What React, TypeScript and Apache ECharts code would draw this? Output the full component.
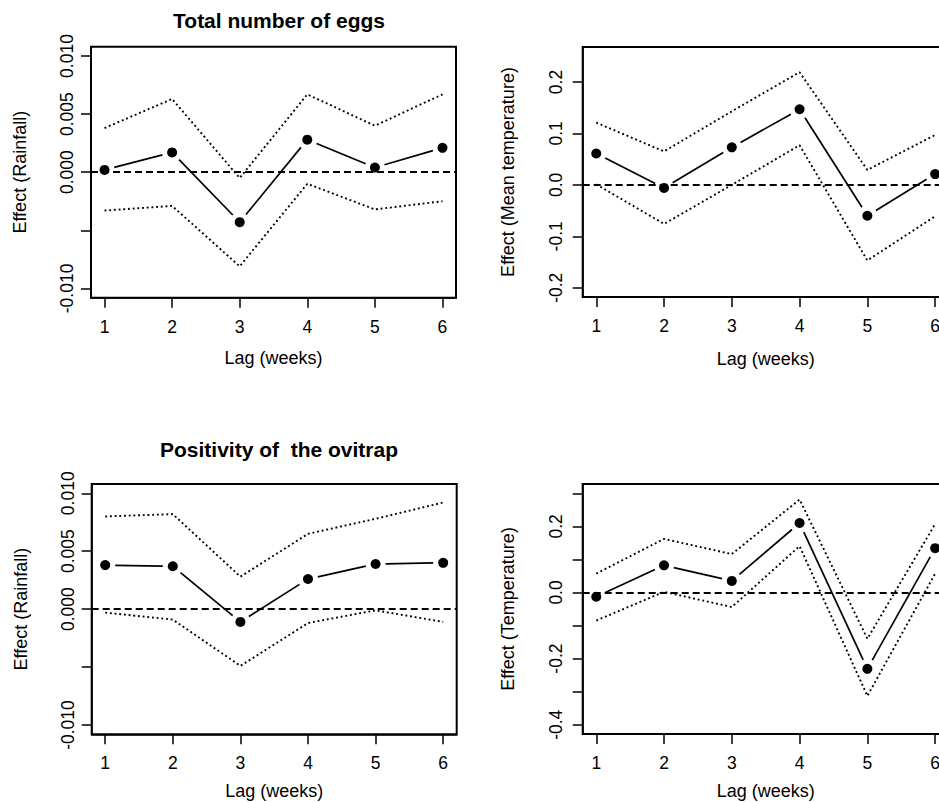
import React, { useEffect, useRef } from "react";
import * as echarts from "echarts";

// ---- Data ----
const lags = [1, 2, 3, 4, 5, 6];

// Total number of eggs – rainfall
const eggsRainEffect = [0.0002, 0.0017, -0.0043, 0.0028, 0.0004, 0.0021];
const eggsRainUpper = [0.0038, 0.0063, -0.0005, 0.0067, 0.004, 0.0067];
const eggsRainLower = [-0.0033, -0.0029, -0.0081, -0.001, -0.0032, -0.0025];

// Total number of eggs – mean temperature
const eggsTempEffect = [0.061, -0.006, 0.073, 0.147, -0.06, 0.021];
const eggsTempUpper = [0.121, 0.065, 0.143, 0.219, 0.029, 0.097];
const eggsTempLower = [0.001, -0.076, 0.0, 0.077, -0.147, -0.061];

// Positivity of the ovitrap – rainfall
const posRainEffect = [0.0038, 0.0037, -0.0011, 0.0026, 0.0039, 0.004];
const posRainUpper = [0.008, 0.0082, 0.0028, 0.0065, 0.0078, 0.0092];
const posRainLower = [-0.0003, -0.0009, -0.0049, -0.0012, -0.0001, -0.0011];

// Positivity of the ovitrap – temperature
const posTempEffect = [-0.013, 0.082, 0.035, 0.21, -0.231, 0.134];
const posTempUpper = [0.057, 0.162, 0.116, 0.281, -0.14, 0.207];
const posTempLower = [-0.085, 0.002, -0.044, 0.14, -0.313, 0.057];

// Tick values / labels
const xTicks = [1, 2, 3, 4, 5, 6];
const rainTicks = [-0.01, -0.005, 0, 0.005, 0.01];
const rainLabels = [-0.01, 0, 0.005, 0.01];
const meanTempTicks = [-0.2, -0.1, 0, 0.1, 0.2];
const tempTicks = [-0.4, -0.3, -0.2, -0.1, 0, 0.1, 0.2, 0.3];
const tempLabels = [-0.4, -0.2, 0, 0.2];

const titles = ["Total number of eggs", "Positivity of  the ovitrap"];
const yNames = [
  "Effect (Rainfall)",
  "Effect (Mean temperature)",
  "Effect (Rainfall)",
  "Effect (Temperature)",
];
const xName = "Lag (weeks)";

const FONT = "Liberation Sans, Arial, Helvetica, sans-serif";
const GAP = 10;

type Panel = {
  effect: number[];
  upper: number[];
  lower: number[];
  ticks: number[];
  labels: number[];
  min: number;
  max: number;
  dec: number;
  left: number;
  top: number;
  width: number;
  height: number;
  yGap: number;
  xGap: number;
  yMargin: number;
};

const panels: Panel[] = [
  {
    effect: eggsRainEffect, upper: eggsRainUpper, lower: eggsRainLower,
    ticks: rainTicks, labels: rainLabels, min: -0.0108, max: 0.0108, dec: 3,
    left: 91, top: 46.7, width: 365, height: 251, yGap: 62, xGap: 51, yMargin: 15,
  },
  {
    effect: eggsTempEffect, upper: eggsTempUpper, lower: eggsTempLower,
    ticks: meanTempTicks, labels: meanTempTicks, min: -0.218, max: 0.268, dec: 1,
    left: 582.7, top: 47, width: 366, height: 250, yGap: 66, xGap: 53, yMargin: 18,
  },
  {
    effect: posRainEffect, upper: posRainUpper, lower: posRainLower,
    ticks: rainTicks, labels: rainLabels, min: -0.0108, max: 0.0108, dec: 3,
    left: 91.7, top: 484, width: 365, height: 250.3, yGap: 62, xGap: 48, yMargin: 15,
  },
  {
    effect: posTempEffect, upper: posTempUpper, lower: posTempLower,
    ticks: tempTicks, labels: tempLabels, min: -0.428, max: 0.328, dec: 1,
    left: 582.7, top: 484, width: 366, height: 250, yGap: 66, xGap: 48, yMargin: 18,
  },
];

const labelStyle = {
  fontSize: 17.5,
  color: "#000",
  fontFamily: FONT,
};

function gapLineRenderItem(params: any, api: any) {
  const k = params.dataIndexInside;
  if (k >= lags.length - 1) return null;
  const a = api.coord([api.value(0, k), api.value(1, k)]);
  const b = api.coord([api.value(0, k + 1), api.value(1, k + 1)]);
  const dx = b[0] - a[0];
  const dy = b[1] - a[1];
  const len = Math.hypot(dx, dy);
  if (len <= 2 * GAP) return null;
  const ux = dx / len;
  const uy = dy / len;
  return {
    type: "line",
    shape: {
      x1: a[0] + ux * GAP,
      y1: a[1] + uy * GAP,
      x2: b[0] - ux * GAP,
      y2: b[1] - uy * GAP,
    },
    style: { stroke: "#000", lineWidth: 1.7, fill: null },
  };
}

function buildOption() {
  const grid: any[] = [];
  const xAxis: any[] = [];
  const yAxis: any[] = [];
  const series: any[] = [];

  panels.forEach((p, i) => {
    grid.push({
      left: p.left,
      top: p.top,
      width: p.width,
      height: p.height,
      show: true,
      borderColor: "#000",
      borderWidth: 2,
      backgroundColor: "transparent",
      containLabel: false,
    });
    xAxis.push({
      type: "value",
      gridIndex: i,
      min: 0.8,
      max: 6.2,
      name: xName,
      nameLocation: "middle",
      nameGap: p.xGap,
      nameTextStyle: { fontSize: 18, color: "#000", fontFamily: FONT },
      axisLine: { show: true, onZero: false, lineStyle: { color: "#000", width: 1.5 } },
      axisTick: {
        show: true,
        inside: false,
        length: 10,
        customValues: xTicks,
        lineStyle: { color: "#000", width: 1.5 },
      },
      axisLabel: {
        show: true,
        customValues: xTicks,
        margin: 20,
        ...labelStyle,
        formatter: (v: number) => String(v),
      },
      splitLine: { show: false },
    });
    yAxis.push({
      type: "value",
      gridIndex: i,
      min: p.min,
      max: p.max,
      name: yNames[i],
      nameLocation: "middle",
      nameRotate: 90,
      nameGap: p.yGap,
      nameTextStyle: { fontSize: 18, color: "#000", fontFamily: FONT },
      axisLine: { show: true, onZero: false, lineStyle: { color: "#000", width: 1.5 } },
      axisTick: {
        show: true,
        inside: false,
        length: 10,
        customValues: p.ticks,
        lineStyle: { color: "#000", width: 1.5 },
      },
      axisLabel: {
        show: true,
        customValues: p.labels,
        rotate: 90,
        margin: p.yMargin,
        ...labelStyle,
        formatter: (v: number) => v.toFixed(p.dec),
      },
      splitLine: { show: false },
    });

    const pts = (arr: number[]) => lags.map((l, k) => [l, arr[k]]);

    // solid effect line with gaps around the points (R type = "b")
    series.push({
      type: "custom",
      coordinateSystem: "cartesian2d",
      xAxisIndex: i,
      yAxisIndex: i,
      data: pts(p.effect),
      encode: { x: 0, y: 1 },
      renderItem: gapLineRenderItem,
      z: 2,
      silent: true,
    });
    // upper CI (dotted) + dashed zero reference
    series.push({
      type: "line",
      xAxisIndex: i,
      yAxisIndex: i,
      data: pts(p.upper),
      z: 3,
      showSymbol: false,
      symbol: "none",
      lineStyle: { color: "#000", width: 1.9, type: [1.9, 2.8] },
      silent: true,
      markLine: {
        silent: true,
        symbol: ["none", "none"],
        label: { show: false },
        lineStyle: { color: "#000", width: 1.9, type: [7, 4] },
        data: [{ yAxis: 0 }],
        z: 3,
      },
    });
    // lower CI (dotted)
    series.push({
      type: "line",
      xAxisIndex: i,
      yAxisIndex: i,
      data: pts(p.lower),
      z: 3,
      showSymbol: false,
      symbol: "none",
      lineStyle: { color: "#000", width: 1.9, type: [1.9, 2.8] },
      silent: true,
    });
    // points
    series.push({
      type: "scatter",
      xAxisIndex: i,
      yAxisIndex: i,
      data: pts(p.effect),
      z: 4,
      symbol: "circle",
      symbolSize: 10,
      itemStyle: { color: "#000", opacity: 1 },
      silent: true,
    });
  });

  const title = [
    {
      text: titles[0],
      left: 274,
      top: 5,
      textAlign: "center",
      textStyle: { fontSize: 21, fontWeight: "bold", color: "#000", fontFamily: FONT },
    },
    {
      text: titles[1],
      left: 274,
      top: 434,
      textAlign: "center",
      textStyle: { fontSize: 21, fontWeight: "bold", color: "#000", fontFamily: FONT },
    },
  ];

  return {
    animation: false,
    backgroundColor: "#fff",
    textStyle: { fontFamily: FONT, fontSize: 17, color: "#000" },
    title,
    grid,
    xAxis,
    yAxis,
    series,
  };
}

export default function App() {
  const ref = useRef<HTMLDivElement>(null);
  useEffect(() => {
    if (!ref.current) return;
    const chart = echarts.init(ref.current, null, { renderer: "svg" });
    chart.setOption(buildOption() as any);
    return () => chart.dispose();
  }, []);
  return (
    <div
      style={{
        position: "absolute",
        left: 0,
        top: 0,
        width: 939,
        height: 802,
        overflow: "hidden",
        background: "#fff",
      }}
    >
      <div ref={ref} style={{ width: 960, height: 802 }} />
    </div>
  );
}
